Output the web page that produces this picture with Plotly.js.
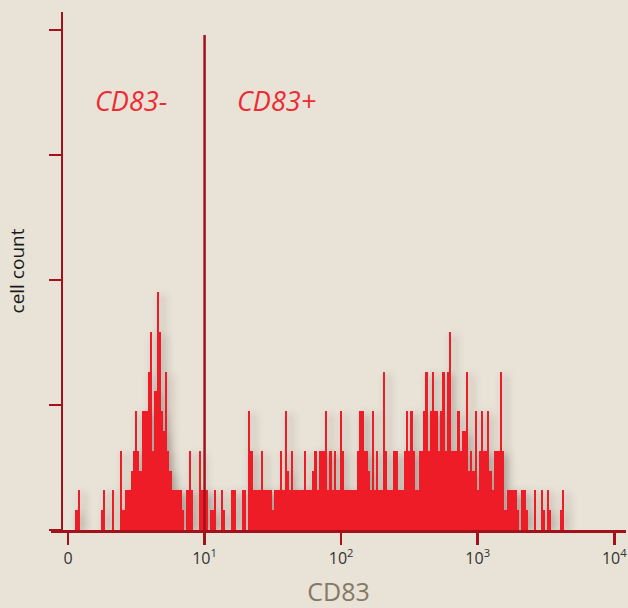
<!DOCTYPE html>
<html>
<head>
<meta charset="utf-8">
<script src="https://cdn.plot.ly/plotly-3.0.1.min.js"></script>
<style>
  html, body { margin: 0; padding: 0; background: #e8e2d7; }
  #chart { width: 628px; height: 608px; }
  .barlayer { filter: url(#barshadow); }
</style>
</head>
<body>
<svg width="0" height="0" style="position:absolute">
  <defs>
    <filter id="barshadow" x="-20%" y="-20%" width="140%" height="140%">
      <feDropShadow dx="4" dy="3" stdDeviation="4" flood-color="#3c3020" flood-opacity="0.4"/>
    </filter>
  </defs>
</svg>
<div id="chart"></div>
<script>
// Histogram channel of the first value (256 channels span 4 decades)
const firstChannel = 4;
// Cell counts per channel, starting at firstChannel
const counts = [
  1, 2, 0, 0, 0, 0, 0, 0, 0, 0, 0, 0, 1, 2, 0, 0, 0, 2, 0, 0,
  0, 4, 1, 2, 2, 2, 3, 4, 6, 4, 3, 6, 6, 6, 8, 10, 4, 7, 12, 10,
  6, 5, 8, 4, 3, 2, 2, 2, 2, 2, 1, 0, 2, 4, 2, 0, 0, 0, 4, 2,
  2, 2, 0, 1, 1, 2, 0, 0, 2, 1, 0, 0, 0, 2, 2, 0, 0, 0, 2, 2,
  0, 6, 4, 2, 2, 2, 2, 4, 2, 2, 2, 2, 1, 2, 2, 2, 4, 2, 6, 3,
  2, 4, 2, 2, 2, 2, 2, 4, 2, 2, 2, 3, 4, 2, 4, 4, 4, 6, 2, 4,
  2, 4, 2, 2, 6, 4, 2, 2, 2, 2, 2, 2, 4, 6, 6, 4, 4, 3, 2, 6,
  2, 4, 2, 2, 8, 4, 2, 2, 2, 4, 4, 2, 2, 2, 4, 6, 4, 6, 4, 2,
  2, 4, 4, 6, 8, 4, 6, 8, 6, 6, 4, 6, 8, 4, 8, 10, 4, 4, 4, 6,
  4, 5, 5, 8, 3, 4, 3, 6, 2, 4, 6, 4, 4, 6, 3, 2, 4, 4, 4, 8,
  4, 1, 2, 2, 2, 2, 2, 1, 0, 2, 2, 1, 0, 0, 0, 2, 0, 0, 2, 1,
  0, 2, 1, 0, 0, 0, 0, 1, 2
];
// Axis ticks: channel positions of the decades and their labels
const tickChannels = [0, 64, 128, 192, 256];
const tickLabels = ["0", "10<sup>1</sup>", "10<sup>2</sup>", "10<sup>3</sup>", "10<sup>4</sup>"];
// Gate between negative and positive populations
const gateChannel = 64;
const gateTop = 25;
const gateLabels = ["CD83-", "CD83+"];
const labelChannels = [29.6, 97.9];
const labelCount = 21.7;

const axisColor = '#a3111b';
const barColor = '#ee1c25';

const trace = {
  type: 'bar',
  y: counts,
  x0: firstChannel,
  dx: 1,
  width: 1,
  marker: { color: barColor, line: { width: 0 } },
  hoverinfo: 'skip'
};

const layout = {
  width: 628,
  height: 608,
  margin: { l: 51, r: 2, t: 12, b: 78 },
  paper_bgcolor: '#e8e2d7',
  plot_bgcolor: '#e8e2d7',
  showlegend: false,
  bargap: 0,
  font: { family: 'Open Sans, sans-serif' },
  xaxis: {
    range: [-7.97, 261.5],
    showgrid: false,
    zeroline: false,
    showline: true,
    linecolor: axisColor,
    linewidth: 2.5,
    ticks: 'outside',
    ticklen: 12,
    tickwidth: 2.5,
    tickcolor: axisColor,
    tickvals: tickChannels,
    ticktext: tickLabels,
    tickfont: { size: 16, color: '#333333' },
    title: { text: 'CD83', font: { size: 25, color: '#857864' }, standoff: 16 }
  },
  yaxis: {
    range: [0, 26.16],
    anchor: 'free',
    position: 0.0191,
    showgrid: false,
    zeroline: false,
    showline: true,
    linecolor: axisColor,
    linewidth: 2.5,
    ticks: 'outside',
    ticklen: 12,
    tickwidth: 2.5,
    tickcolor: axisColor,
    tick0: 0,
    dtick: 6.31,
    showticklabels: false,
    title: { text: 'cell count', font: { size: 19, color: '#1a1a1a' }, standoff: 18 }
  },
  shapes: [{
    type: 'line', xref: 'x', yref: 'y',
    x0: gateChannel, x1: gateChannel, y0: 0, y1: gateTop,
    line: { color: axisColor, width: 2.5 }
  }],
  annotations: gateLabels.map((t, i) => ({
    text: t, x: labelChannels[i], y: labelCount, xref: 'x', yref: 'y',
    showarrow: false,
    font: { size: 27, color: '#ee2a32', style: 'italic' }
  }))
};

Plotly.newPlot('chart', [trace], layout, { displayModeBar: false, staticPlot: true });
</script>
</body>
</html>
